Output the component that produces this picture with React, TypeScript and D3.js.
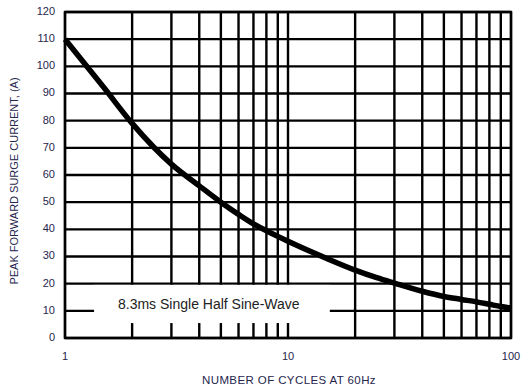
import React from "react";
import * as d3 from "d3";

// surge curve
const cycles = [1, 1.5, 2, 3, 4, 5, 6, 7, 8, 9, 10, 15, 20, 25, 30, 40, 50, 60, 70, 80, 90, 100];
const current = [110, 92, 79, 64, 56, 50, 45.5, 42, 39.5, 37.4, 35.6, 29.2, 25, 22.2, 20.2, 17.2, 15.3, 14.2, 13.3, 12.4, 11.6, 11];

const yTicks = [0, 10, 20, 30, 40, 50, 60, 70, 80, 90, 100, 110, 120];
const xGrid = [1, 2, 3, 4, 5, 6, 7, 8, 9, 10, 20, 30, 40, 50, 60, 70, 80, 90, 100];
const xLabels = [1, 10, 100];

const noteText = "8.3ms Single Half Sine-Wave";

export default function App() {
  const width = 521;
  const height = 390;
  const left = 65;
  const right = 511;
  const top = 12;
  const bottom = 338;
  const gridWidth = 2.4;
  const font = "Liberation Sans, Arial, sans-serif";

  const x = d3.scaleLog().domain([1, 100]).range([left, right]);
  const y = d3.scaleLinear().domain([0, 120]).range([bottom, top]);

  const line = d3
    .line<number>()
    .x((d, i) => x(cycles[i]))
    .y((d) => y(d))
    .curve(d3.curveMonotoneX);

  // white box behind the note, in data terms
  const boxX0 = x(1.35);
  const boxX1 = x(15.4);
  const boxY0 = y(20) + 1.2;
  const boxY1 = y(5.5);

  return (
    <svg
      width={width}
      height={height}
      style={{ position: "absolute", left: 0, top: 0, background: "white" }}
    >
      <rect x={0} y={0} width={width} height={height} fill="white" />
      <g>
        {yTicks.map((t) => (
          <line
            key={"h" + t}
            x1={left}
            x2={right}
            y1={y(t)}
            y2={y(t)}
            stroke="black"
            strokeWidth={gridWidth}
          />
        ))}
        {xGrid.map((t) => (
          <line
            key={"v" + t}
            x1={x(t)}
            x2={x(t)}
            y1={top}
            y2={bottom}
            stroke="black"
            strokeWidth={gridWidth}
          />
        ))}
      </g>
      <rect
        x={boxX0}
        y={boxY0}
        width={boxX1 - boxX0}
        height={boxY1 - boxY0}
        fill="white"
      />
      <text
        x={118}
        y={(boxY0 + boxY1) / 2 + 1}
        dominantBaseline="middle"
        fontFamily={font}
        fontSize={14}
        fill="#222"
      >
        {noteText}
      </text>
      <rect
        x={left}
        y={top}
        width={right - left}
        height={bottom - top}
        fill="none"
        stroke="black"
        strokeWidth={gridWidth}
      />
      <path
        d={line(current) || ""}
        fill="none"
        stroke="black"
        strokeWidth={5.5}
        strokeLinejoin="round"
      />
      <g fontFamily={font} fontSize={11} fill="#26264e">
        {yTicks.map((t) => (
          <text key={"yl" + t} x={55} y={y(t)} textAnchor="end" dominantBaseline="middle">
            {t}
          </text>
        ))}
        {xLabels.map((t) => (
          <text key={"xl" + t} x={x(t)} y={357} textAnchor="middle" dominantBaseline="middle">
            {t}
          </text>
        ))}
      </g>
      <text
        x={289}
        y={381}
        textAnchor="middle"
        dominantBaseline="middle"
        fontFamily={font}
        fontSize={11.5}
        letterSpacing={0.4}
        fill="#26264e"
      >
        NUMBER OF CYCLES AT 60Hz
      </text>
      <text
        transform={`translate(15, ${(top + bottom) / 2 + 6}) rotate(-90)`}
        textAnchor="middle"
        dominantBaseline="middle"
        fontFamily={font}
        fontSize={11}
        fill="#26264e"
      >
        PEAK FORWARD SURGE CURRENT, (A)
      </text>
    </svg>
  );
}
